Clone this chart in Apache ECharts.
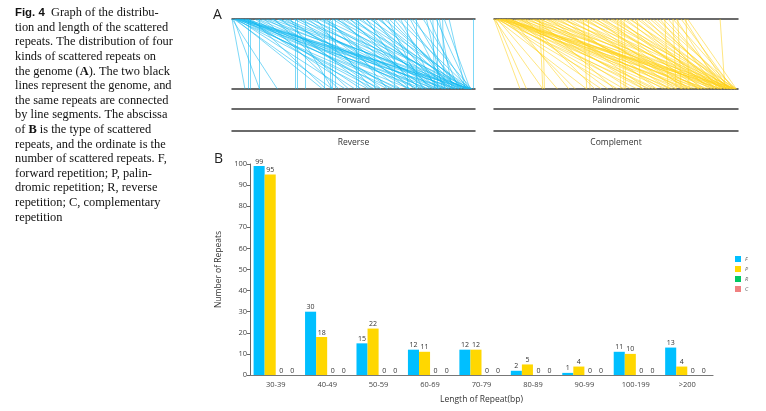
<!DOCTYPE html>
<html>
<head>
<meta charset="utf-8">
<script src="https://cdn.jsdelivr.net/npm/echarts@6/dist/echarts.min.js"></script>
<style>
  html, body { margin: 0; padding: 0; background: #fff; }
  #chart { width: 766px; height: 411px; }
</style>
</head>
<body>
<div id="chart"></div>
<script>
// bar chart data (panel B)
var categories = ['30-39', '40-49', '50-59', '60-69', '70-79', '80-89', '90-99', '100-199', '>200'];
var fValues = [99, 30, 15, 12, 12, 2, 1, 11, 13];
var pValues = [95, 18, 22, 11, 12, 5, 4, 10, 4];
var rValues = [0, 0, 0, 0, 0, 0, 0, 0, 0];
var cValues = [0, 0, 0, 0, 0, 0, 0, 0, 0];

// repeat positions (kb) on the two genome copies, [top, bottom] - panel A
var genomeLen = 150;
var forwardPairs = [
    [0, 8], [1, 17], [0, 28], [2, 56], [1, 62], [3, 70], [2, 84], [4, 92], [1, 100], [3, 110],
    [5, 118], [2, 126], [4, 134], [6, 140], [3, 146], [5, 148], [7, 122], [8, 104], [6, 88], [9, 132],
    [10, 76], [8, 144],
    [10, 10], [11, 11], [17, 17], [39, 39], [40, 40], [45, 45], [57, 57], [60, 61], [62, 62], [64, 64],
    [77, 77], [78, 78], [88, 88], [100, 100], [108, 108], [114, 114], [124, 125], [127, 127], [130, 131], [149, 149],
    [12, 58], [14, 80], [15, 96], [16, 115], [18, 138], [20, 66], [21, 102], [22, 128], [24, 147], [25, 90],
    [26, 72], [28, 120], [29, 142], [30, 85], [32, 110], [33, 136], [35, 98], [36, 62], [38, 124], [40, 146],
    [42, 92], [43, 114], [45, 130], [47, 104], [48, 145], [50, 118], [52, 86], [53, 138], [55, 126], [56, 148],
    [58, 108],
    [60, 96], [62, 132], [64, 144], [65, 120], [67, 110], [68, 140], [70, 128], [72, 147], [73, 116], [75, 136],
    [76, 124], [78, 145], [80, 130], [82, 142], [83, 112], [85, 148], [86, 134], [88, 122], [90, 146], [91, 138],
    [92, 128], [94, 144], [96, 118], [97, 140],
    [100, 136], [102, 147], [104, 126], [106, 142], [110, 132], [111, 148], [113, 138], [118, 145], [120, 130], [122, 140],
    [126, 146], [128, 136], [131, 147], [134, 144]
];
var palindromicPairs = [
    [0, 16], [1, 20], [0, 30], [2, 39], [1, 57], [3, 66], [2, 76], [4, 88], [1, 96], [3, 106],
    [5, 116], [2, 124], [4, 132], [6, 140], [3, 146], [5, 149], [7, 110], [8, 92], [6, 80], [9, 128],
    [10, 100], [8, 144], [7, 50], [9, 120],
    [28, 30], [30, 31], [55, 57], [58, 59], [76, 78], [78, 80], [80, 81], [88, 90], [105, 107], [110, 112],
    [113, 115], [118, 120], [139, 142],
    [11, 46], [12, 70], [13, 98], [14, 118], [15, 136], [16, 84], [17, 108], [18, 146], [19, 62], [20, 126],
    [22, 92], [23, 140], [24, 112], [25, 130], [26, 74], [27, 148], [29, 104], [31, 122], [32, 138], [34, 94],
    [35, 116], [36, 144], [38, 128], [40, 108], [41, 148], [43, 134], [44, 100], [46, 120], [48, 142], [50, 126],
    [52, 112], [53, 146], [55, 136], [57, 118], [58, 148],
    [60, 130], [62, 142], [63, 120], [65, 138], [66, 148], [68, 126], [70, 144], [72, 134], [73, 147], [75, 140],
    [77, 128], [79, 146], [81, 136], [83, 149], [84, 142], [86, 132], [88, 146], [90, 140], [92, 148], [94, 136],
    [96, 145], [98, 142], [100, 149], [102, 138], [104, 146], [107, 143], [110, 148], [112, 140], [115, 147], [117, 144],
    [119, 149]
];

var captionLines = [
    '{s|Fig. 4}{n|  Graph of the distribu-}',
    '{n|tion and length of the scattered}',
    '{n|repeats. The distribution of four}',
    '{n|kinds of scattered repeats on}',
    '{n|the genome (}{b|A}{n|). The two black}',
    '{n|lines represent the genome, and}',
    '{n|the same repeats are connected}',
    '{n|by line segments. The abscissa}',
    '{n|of }{b|B}{n| is the type of scattered}',
    '{n|repeats, and the ordinate is the}',
    '{n|number of scattered repeats. F,}',
    '{n|forward repetition; P, palin-}',
    '{n|dromic repetition; R, reverse}',
    '{n|repetition; C, complementary}',
    '{n|repetition}'
];

var genomeColor = '#3a3a3a';
var font = 'Open Sans';
var capSize = 12.4;
var capLine = 14.6;

function genomeAxis(grid, pos, name) {
    return {
        gridIndex: grid,
        type: 'value',
        position: pos,
        min: 0,
        max: genomeLen,
        axisLine: { show: true, lineStyle: { color: genomeColor, width: 1.5 } },
        axisTick: { show: false },
        axisLabel: { show: false },
        splitLine: { show: false },
        name: name || '',
        nameLocation: 'middle',
        nameGap: 7,
        nameTextStyle: { fontFamily: font, fontSize: 8.5, color: '#333', verticalAlign: 'top' }
    };
}
function hiddenY(grid) {
    return { gridIndex: grid, type: 'value', min: 0, max: 1, show: false };
}
function linkSeries(pairs, xIdx, yIdx, color) {
    return {
        type: 'lines',
        coordinateSystem: 'cartesian2d',
        xAxisIndex: xIdx,
        yAxisIndex: yIdx,
        silent: true,
        animation: false,
        lineStyle: { color: color, width: 1, opacity: 0.55 },
        data: pairs.map(function (p) {
            return { coords: [[p[0], 1], [p[1], 0]] };
        })
    };
}
function barSeries(name, data, color) {
    return {
        name: name,
        type: 'bar',
        xAxisIndex: 8,
        yAxisIndex: 4,
        data: data,
        barGap: '0%',
        barCategoryGap: '14%',
        itemStyle: { color: color },
        label: {
            show: true,
            position: 'top',
            distance: 1,
            fontFamily: font,
            fontSize: 7,
            color: '#333'
        }
    };
}

var myChart = echarts.init(document.getElementById('chart'));
var option = {
    animation: false,
    title: [
        { text: 'A', left: 208, top: 3, textStyle: { fontFamily: font, fontSize: 14, fontWeight: 500, color: '#222' } },
        { text: 'B', left: 209, top: 147, textStyle: { fontFamily: font, fontSize: 14, fontWeight: 500, color: '#222' } }
    ],
    graphic: [{
        type: 'text',
        left: 15,
        top: 7,
        style: {
            text: captionLines.join('\n'),
            fill: '#111',
            rich: {
                n: { fontFamily: 'Liberation Serif', fontSize: capSize, lineHeight: capLine, fill: '#111' },
                b: { fontFamily: 'Liberation Serif', fontWeight: 'bold', fontSize: capSize, lineHeight: capLine, fill: '#111' },
                s: { fontFamily: 'Liberation Sans', fontWeight: 'bold', fontSize: capSize - 1, lineHeight: capLine, fill: '#111' }
            }
        }
    }],
    legend: {
        orient: 'vertical',
        left: 730,
        top: 251,
        itemWidth: 6,
        itemHeight: 6,
        itemGap: 4,
        icon: 'rect',
        textStyle: { fontFamily: font, fontSize: 5.5, fontStyle: 'italic', color: '#666', padding: [0, 0, 0, -1] },
        data: ['F', 'P', 'R', 'C']
    },
    grid: [
        { left: 232, top: 19, width: 243, height: 70 },
        { left: 494, top: 19, width: 244, height: 70 },
        { left: 232, top: 109, width: 243, height: 22 },
        { left: 494, top: 109, width: 244, height: 22 },
        { left: 250, top: 164, width: 463, height: 211 }
    ],
    xAxis: [
        genomeAxis(0, 'bottom', 'Forward'),
        genomeAxis(0, 'top'),
        genomeAxis(1, 'bottom', 'Palindromic'),
        genomeAxis(1, 'top'),
        genomeAxis(2, 'bottom', 'Reverse'),
        genomeAxis(2, 'top'),
        genomeAxis(3, 'bottom', 'Complement'),
        genomeAxis(3, 'top'),
        {
            gridIndex: 4,
            type: 'category',
            data: categories,
            axisLine: { lineStyle: { color: '#777', width: 1.2 } },
            axisTick: { show: false },
            axisLabel: { fontFamily: font, fontSize: 7.5, color: '#444', margin: 6 },
            name: 'Length of Repeat(bp)',
            nameLocation: 'middle',
            nameGap: 20,
            nameTextStyle: { fontFamily: font, fontSize: 8.5, color: '#333' }
        }
    ],
    yAxis: [
        hiddenY(0), hiddenY(1), hiddenY(2), hiddenY(3),
        {
            gridIndex: 4,
            type: 'value',
            min: 0,
            max: 100,
            interval: 10,
            axisLine: { show: true, lineStyle: { color: '#666', width: 1 } },
            axisTick: { show: true, length: 3, lineStyle: { color: '#666' } },
            axisLabel: { fontFamily: font, fontSize: 7.5, color: '#444', margin: 3 },
            splitLine: { show: false },
            name: 'Number of Repeats',
            nameLocation: 'middle',
            nameGap: 26,
            nameTextStyle: { fontFamily: font, fontSize: 8.5, color: '#333' }
        }
    ],
    series: [
        linkSeries(forwardPairs, 0, 0, '#12b8f0'),
        linkSeries(palindromicPairs, 2, 1, '#ffd21a'),
        barSeries('F', fValues, '#00bfff'),
        barSeries('P', pValues, '#ffd700'),
        barSeries('R', rValues, '#00c864'),
        barSeries('C', cValues, '#f08080')
    ]
};
myChart.setOption(option);
</script>
</body>
</html>
